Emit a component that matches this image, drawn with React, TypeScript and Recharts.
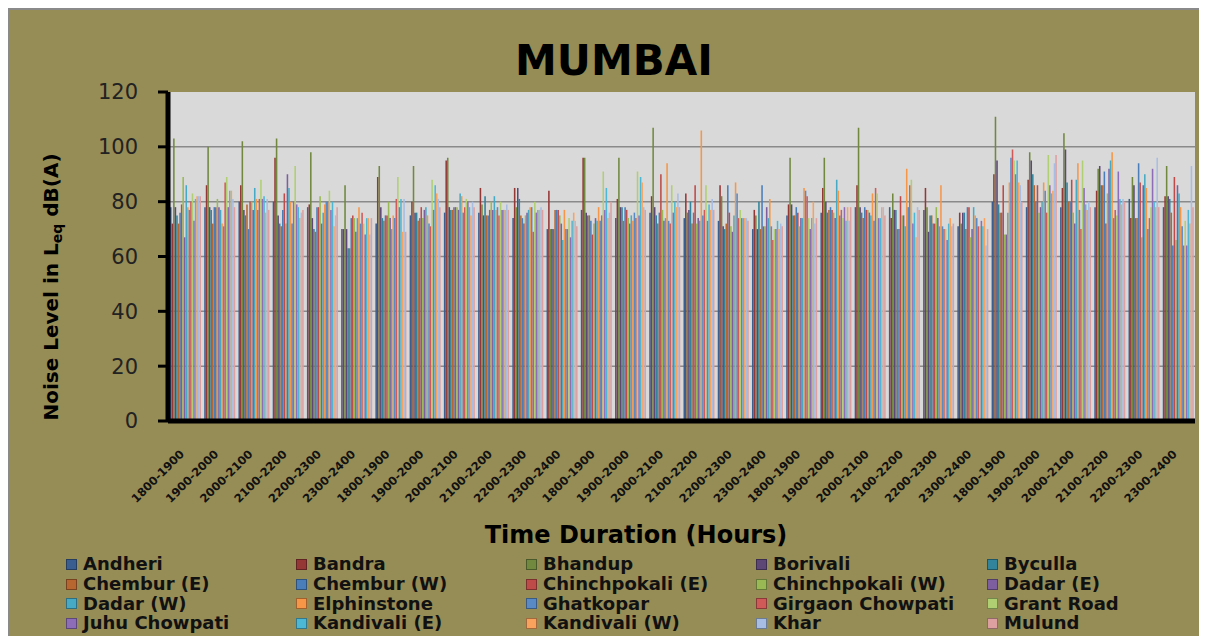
import React from "react";
import { BarChart, Bar, XAxis, YAxis, CartesianGrid } from "recharts";

const categories = [
  "1800-1900", "1900-2000", "2000-2100", "2100-2200", "2200-2300", "2300-2400",
  "1800-1900", "1900-2000", "2000-2100", "2100-2200", "2200-2300", "2300-2400",
  "1800-1900", "1900-2000", "2000-2100", "2100-2200", "2200-2300", "2300-2400",
  "1800-1900", "1900-2000", "2000-2100", "2100-2200", "2200-2300", "2300-2400",
  "1800-1900", "1900-2000", "2000-2100", "2100-2200", "2200-2300", "2300-2400",
];

const stations = [
  "Andheri", "Bandra", "Bhandup", "Borivali", "Byculla",
  "Chembur (E)", "Chembur (W)", "Chinchpokali (E)", "Chinchpokali (W)", "Dadar (E)",
  "Dadar (W)", "Elphinstone", "Ghatkopar", "Girgaon Chowpati", "Grant Road",
  "Juhu Chowpati", "Kandivali (E)", "Kandivali (W)", "Khar", "Mulund",
];

const stationColors = [
  "#3B5E91", "#953735", "#71893F", "#5C4776", "#31849B",
  "#B8662F", "#4A7EBB", "#BE4B48", "#98B954", "#7D5FA0",
  "#46AAC5", "#F79646", "#5A8AC6", "#CF5A57", "#B0CF72",
  "#8E6DB8", "#4DB8D5", "#F9A25E", "#A7BDE3", "#DDA0A0",
];

const yTicks = [0, 20, 40, 60, 80, 100, 120];

// values per time slot, in the order of `stations`
const slot01 = [78, 72, 103, 78, 75, 72, 76, 79, 89, 67, 86, 78, 77, 80, 83, 73, 81, 82, 82, 82];
const slot02 = [78, 86, 100, 78, 77, 72, 78, 78, 81, 78, 77, 72, 71, 87, 89, 78, 84, 84, 81, 78];
const slot03 = [80, 86, 102, 77, 75, 79, 70, 80, 80, 77, 85, 81, 77, 81, 88, 81, 82, 76, 81, 77];
const slot04 = [80, 96, 103, 75, 72, 71, 77, 83, 72, 90, 85, 80, 72, 80, 93, 79, 78, 74, 76, 77];
const slot05 = [78, 79, 98, 74, 70, 69, 78, 78, 82, 72, 76, 79, 80, 80, 84, 77, 80, 71, 75, 78];
const slot06 = [70, 70, 86, 70, 63, 63, 74, 75, 74, 69, 74, 78, 72, 76, 72, 68, 74, 74, 68, 74];
const slot07 = [72, 89, 93, 78, 74, 73, 75, 75, 80, 74, 70, 75, 74, 81, 89, 78, 81, 69, 81, 69];
const slot08 = [75, 80, 93, 76, 76, 73, 74, 78, 74, 77, 78, 75, 72, 71, 88, 77, 86, 83, 81, 78];
const slot09 = [76, 95, 96, 78, 77, 77, 78, 78, 78, 77, 83, 82, 76, 78, 81, 80, 78, 75, 80, 78];
const slot10 = [76, 85, 79, 75, 82, 75, 75, 77, 80, 77, 82, 77, 78, 75, 80, 77, 77, 77, 79, 77];
const slot11 = [74, 85, 78, 85, 81, 75, 74, 72, 75, 76, 77, 78, 78, 69, 80, 76, 77, 77, 78, 77];
const slot12 = [70, 84, 70, 70, 70, 77, 77, 77, 75, 72, 66, 77, 70, 70, 74, 67, 73, 76, 73, 71];
const slot13 = [77, 96, 96, 76, 75, 75, 73, 68, 72, 74, 73, 78, 73, 75, 91, 77, 85, 74, 76, 80];
const slot14 = [74, 81, 96, 78, 78, 73, 78, 77, 74, 72, 75, 73, 76, 74, 91, 75, 89, 87, 78, 77];
const slot15 = [76, 82, 107, 78, 75, 72, 76, 90, 77, 73, 74, 94, 73, 72, 86, 76, 80, 78, 83, 78];
const slot16 = [74, 83, 76, 77, 80, 72, 76, 86, 72, 74, 73, 106, 75, 77, 86, 73, 79, 77, 81, 77];
const slot17 = [73, 86, 82, 71, 70, 72, 86, 76, 71, 69, 75, 87, 83, 74, 77, 74, 74, 74, 74, 73];
const slot18 = [70, 77, 75, 70, 80, 70, 86, 71, 71, 78, 74, 81, 71, 66, 70, 70, 73, 70, 72, 71];
const slot19 = [75, 79, 96, 79, 75, 75, 78, 76, 71, 74, 74, 85, 84, 82, 74, 70, 74, 80, 72, 74];
const slot20 = [76, 85, 96, 80, 76, 77, 78, 77, 76, 74, 88, 84, 75, 77, 74, 78, 73, 78, 73, 78];
const slot21 = [78, 86, 107, 78, 76, 74, 78, 77, 77, 76, 75, 83, 73, 85, 83, 74, 74, 78, 78, 75];
const slot22 = [78, 74, 83, 77, 77, 70, 70, 82, 75, 75, 71, 92, 78, 86, 88, 72, 76, 67, 78, 77];
const slot23 = [77, 85, 78, 69, 75, 75, 72, 72, 78, 74, 71, 86, 71, 70, 70, 66, 72, 74, 71, 72];
const slot24 = [71, 76, 72, 76, 76, 70, 78, 78, 67, 70, 78, 75, 74, 71, 71, 73, 71, 74, 64, 70];
const slot25 = [80, 90, 111, 95, 79, 76, 76, 86, 68, 68, 76, 87, 96, 99, 95, 90, 95, 87, 86, 80];
const slot26 = [78, 88, 98, 95, 90, 86, 80, 86, 76, 78, 80, 87, 84, 76, 97, 86, 83, 84, 94, 97];
const slot27 = [78, 85, 105, 99, 87, 80, 80, 88, 76, 72, 88, 94, 77, 70, 95, 85, 79, 77, 80, 78];
const slot28 = [78, 84, 92, 93, 86, 86, 91, 72, 83, 92, 95, 98, 74, 77, 75, 91, 81, 79, 81, 80];
const slot29 = [81, 74, 89, 86, 74, 74, 94, 87, 67, 86, 90, 85, 70, 74, 78, 92, 80, 78, 96, 78];
const slot30 = [78, 82, 93, 82, 81, 76, 64, 89, 66, 86, 83, 78, 71, 64, 73, 64, 77, 72, 93, 78];

const slotValues = [
  slot01, slot02, slot03, slot04, slot05, slot06, slot07, slot08, slot09, slot10,
  slot11, slot12, slot13, slot14, slot15, slot16, slot17, slot18, slot19, slot20,
  slot21, slot22, slot23, slot24, slot25, slot26, slot27, slot28, slot29, slot30,
];

const rows = categories.map((c, i) => {
  const r: Record<string, number | string> = { idx: i, slot: c };
  stations.forEach((_, j) => {
    r[`s${j}`] = slotValues[i][j];
  });
  return r;
});

const FONT = '"DejaVu Sans", Verdana, sans-serif';

const renderSlotTick = (props: any) => {
  const { x, y, payload } = props;
  return (
    <g transform={`translate(${x - 6},${y})`}>
      <text
        transform="rotate(-45)"
        textAnchor="end"
        dy="0.71em"
        fontFamily={FONT}
        fontWeight="bold"
        fontSize={11.5}
        fill="#111"
      >
        {categories[payload.value]}
      </text>
    </g>
  );
};

const legendCols = [56, 286, 516, 746, 977];
const legendRowCenters = [554, 574, 593.5, 613];

export default function App() {
  return (
    <div
      style={{
        position: "relative",
        width: 1199,
        height: 628,
        boxSizing: "border-box",
        borderTop: "2px solid #8a8a8a",
        borderLeft: "2px solid #8a8a8a",
        background: "#968C56",
        overflow: "hidden",
      }}
    >
      <BarChart
        width={1197}
        height={626}
        data={rows}
        margin={{ top: 82, right: 12, left: 98, bottom: 155 }}
        barGap={0}
        barSize={1.55}
      >
        <CartesianGrid
          vertical={false}
          fill="#D9D9D9"
          fillOpacity={1}
          stroke="#8a8a8a"
          strokeWidth={1.5}
          horizontalValues={[20, 40, 60, 80, 100]}
        />
        <XAxis
          dataKey="idx"
          type="category"
          interval={0}
          height={60}
          tickLine={false}
          tickSize={6}
          tickMargin={22}
          axisLine={{ stroke: "#000", strokeWidth: 5 }}
          tick={renderSlotTick}
        />
        <YAxis
          domain={[0, 120]}
          ticks={yTicks}
          interval={0}
          width={60}
          tickSize={10}
          tickMargin={20}
          axisLine={{ stroke: "#000", strokeWidth: 5 }}
          tickLine={{ stroke: "#000", strokeWidth: 3 }}
          tick={{ fontFamily: FONT, fontSize: 21, fill: "#222" }}
        />
        {stations.map((s, j) => (
          <Bar
            key={s}
            dataKey={`s${j}`}
            name={s}
            fill={stationColors[j]}
            isAnimationActive={false}
          />
        ))}
      </BarChart>

      <div
        style={{
          position: "absolute",
          left: 604,
          top: 30,
          transform: "translateX(-50%)",
          fontFamily: FONT,
          fontWeight: "bold",
          fontSize: 42,
          lineHeight: "42px",
          color: "#000",
          whiteSpace: "nowrap",
        }}
      >
        MUMBAI
      </div>

      <div
        style={{
          position: "absolute",
          left: 44,
          top: 277,
          transform: "translate(-50%, -50%) rotate(-90deg)",
          fontFamily: FONT,
          fontWeight: "bold",
          fontSize: 20,
          lineHeight: "24px",
          color: "#000",
          whiteSpace: "nowrap",
        }}
      >
        Noise Level in L
        <span style={{ fontSize: "0.7em", verticalAlign: "-0.3em" }}>eq</span> dB(A)
      </div>

      <div
        style={{
          position: "absolute",
          left: 626,
          top: 513,
          transform: "translateX(-50%)",
          fontFamily: FONT,
          fontWeight: "bold",
          fontSize: 24,
          lineHeight: "24px",
          color: "#000",
          whiteSpace: "nowrap",
        }}
      >
        Time Duration (Hours)
      </div>

      {stations.map((s, j) => {
        const col = j % 5;
        const row = Math.floor(j / 5);
        return (
          <div
            key={s}
            style={{
              position: "absolute",
              left: legendCols[col],
              top: legendRowCenters[row] - 10,
              height: 20,
              display: "flex",
              alignItems: "center",
              whiteSpace: "nowrap",
            }}
          >
            <div
              style={{
                width: 11,
                height: 11,
                boxSizing: "border-box",
                background: stationColors[j],
                border: "1px solid rgba(0,0,0,0.35)",
                marginRight: 6,
              }}
            />
            <span
              style={{
                fontFamily: FONT,
                fontWeight: "bold",
                fontSize: 18,
                lineHeight: "20px",
                color: "#111",
              }}
            >
              {s}
            </span>
          </div>
        );
      })}
    </div>
  );
}
